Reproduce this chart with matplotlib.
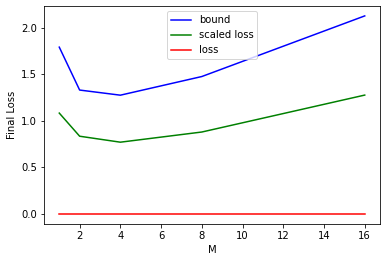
import matplotlib
matplotlib.use("Agg")
import matplotlib.pyplot as plt

# values
M = [1, 2, 4, 8, 16]
bound = [1.79, 1.33, 1.275, 1.475, 2.125]
scaled_loss = [1.083, 0.835, 0.771, 0.88, 1.276]
loss = [0.0, 0.0, 0.0, 0.0, 0.0]

W, H = 386, 262
fig = plt.figure(figsize=(W / 72, H / 72), dpi=72)
ax = fig.add_axes([44 / W, 1 - 224 / H, (380 - 44) / W, (224 - 6) / H])

ax.plot(M, bound, color='blue', label="bound")
ax.plot(M, scaled_loss, color='green', label="scaled loss")
ax.plot(M, loss, color='red', label="loss")
ax.set_xlabel('M')
ax.set_ylabel('Final Loss')
ax.set_xticks([2, 4, 6, 8, 10, 12, 14, 16])
ax.set_yticks([0.0, 0.5, 1.0, 1.5, 2.0])
ax.legend(loc='upper center')

fig.savefig("out.png", dpi=72)
